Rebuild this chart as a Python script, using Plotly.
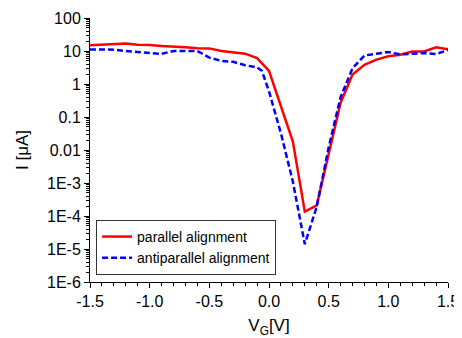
import plotly.graph_objects as go

# parallel alignment (red, solid)
vg_par = [-1.5, -1.4, -1.3, -1.2, -1.1, -1.0, -0.9, -0.8, -0.7, -0.6, -0.5, -0.4, -0.3, -0.2, -0.1,
          0.0, 0.2, 0.3, 0.4, 0.6, 0.7, 0.8, 0.9, 1.0, 1.1, 1.2, 1.3, 1.4, 1.5]
i_par = [15.0, 15.5, 16.0, 17.0, 15.5, 15.3, 14.2, 13.8, 13.0, 12.1, 12.0, 10.0, 9.2, 8.3, 6.1,
         2.5, 0.018, 1.35e-4, 2.1e-4, 0.27, 1.95, 3.8, 5.5, 6.9, 7.7, 9.7, 9.7, 12.9, 11.3]

# antiparallel alignment (blue, dashed)
vg_anti = [-1.5, -1.4, -1.3, -1.2, -1.1, -1.0, -0.9, -0.8, -0.7, -0.6, -0.5, -0.4, -0.3, -0.2, -0.1,
           -0.06, 0.0, 0.1, 0.2, 0.25, 0.3, 0.4, 0.5, 0.6, 0.7, 0.8, 0.9, 1.0, 1.1, 1.2, 1.3, 1.4, 1.5]
i_anti = [11.2, 11.2, 11.0, 10.0, 9.1, 8.7, 8.2, 10.0, 10.0, 10.0, 6.3, 5.0, 4.7, 3.7, 3.2,
          2.5, 0.6, 0.032, 1.1e-3, 1.3e-4, 1.4e-5, 1.9e-4, 0.012, 0.4, 3.0, 7.3, 8.3, 9.3, 7.9, 8.1, 8.7, 8.1, 10.7]

y_tickvals = [100, 10, 1, 0.1, 0.01, 1e-3, 1e-4, 1e-5, 1e-6]
y_ticktext = ["100", "10", "1", "0.1", "0.01", "1E-3", "1E-4", "1E-5", "1E-6"]
x_tickvals = [-1.5, -1.0, -0.5, 0.0, 0.5, 1.0, 1.5]
x_ticktext = ["-1.5", "-1.0", "-0.5", "0.0", "0.5", "1.0", "1.5"]

# minor log ticks: 2..9 within each decade
y_minor = [m * d for d in y_tickvals[1:] for m in range(2, 10)]

FONT = "Liberation Sans, Arial, sans-serif"

fig = go.Figure()
fig.add_trace(go.Scatter(x=vg_par, y=i_par, mode="lines", name="parallel alignment",
                         line=dict(color="#ff0000", width=2.5)))
fig.add_trace(go.Scatter(x=vg_anti, y=i_anti, mode="lines", name="antiparallel alignment",
                         line=dict(color="#0000ff", width=2.5, dash="6px,3px")))

# page body has an 8px default margin, so the figure is sized to fit the window
fig.update_layout(
    width=454, height=330,
    margin=dict(l=82, r=14, t=10, b=56, autoexpand=False),
    paper_bgcolor="white", plot_bgcolor="white",
    font=dict(family=FONT, size=14, color="black"),
    legend=dict(x=0.017, y=0.235, xanchor="left", yanchor="top",
                bordercolor="#333333", borderwidth=1, bgcolor="white",
                font=dict(family=FONT, size=14), tracegroupgap=0,
                itemwidth=30),
    showlegend=True,
)
fig.update_xaxes(
    range=[-1.5, 1.5], tickvals=x_tickvals, ticktext=x_ticktext,
    showline=True, linecolor="black", linewidth=1, mirror=False,
    ticks="outside", ticklen=5, tickcolor="black", tickwidth=1,
    showgrid=False, zeroline=False, automargin=False,
    minor=dict(ticks="outside", ticklen=3, tickcolor="black", dtick=0.1, showgrid=False),
    title=dict(text="V<sub>G</sub>[V]", font=dict(family=FONT, size=17), standoff=10),
    tickfont=dict(family=FONT, size=16),
)
fig.update_yaxes(
    type="log", range=[-6, 2], tickvals=y_tickvals, ticktext=y_ticktext,
    showline=True, linecolor="black", linewidth=1, mirror=False,
    ticks="outside", ticklen=5, tickcolor="black", tickwidth=1,
    showgrid=False, zeroline=False, automargin=False,
    minor=dict(ticks="outside", ticklen=3, tickcolor="black", tickmode="array",
               tickvals=y_minor, showgrid=False),
    title=dict(text="I [μA]", font=dict(family=FONT, size=17), standoff=14),
    tickfont=dict(family=FONT, size=16),
)

fig.write_html("out.html")
